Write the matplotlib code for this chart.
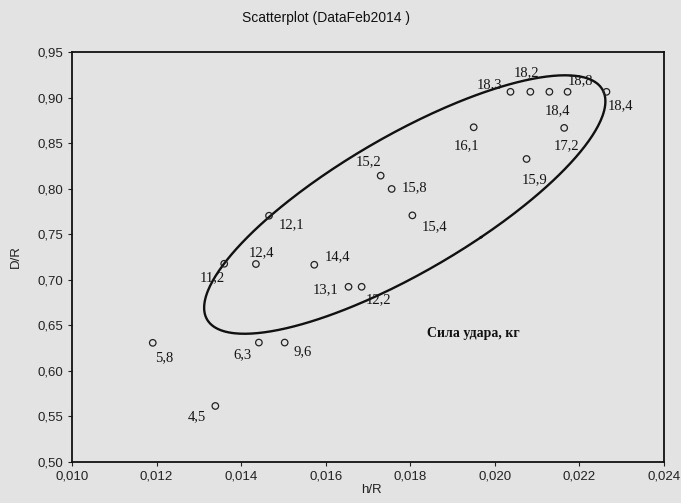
import numpy as np
import matplotlib
matplotlib.use("Agg")
import matplotlib.pyplot as plt
from matplotlib.ticker import FuncFormatter, MultipleLocator

# h/R and D/R for each test, labelled by impact force (kg)
h_r = [0.01339, 0.01191, 0.01442, 0.01503, 0.01360, 0.01435, 0.01466, 0.01573,
       0.01654, 0.01685, 0.01730, 0.01756, 0.01805, 0.01950, 0.02075, 0.02037,
       0.02084, 0.02129, 0.02172, 0.02164, 0.02264]
d_r = [0.5615, 0.6308, 0.6311, 0.6311, 0.7176, 0.7173, 0.7703, 0.7165,
       0.6923, 0.6923, 0.8143, 0.7997, 0.7707, 0.8674, 0.8326, 0.9063,
       0.9063, 0.9063, 0.9063, 0.8667, 0.9063]
force = ["4,5", "5,8", "6,3", "9,6", "11,2", "12,4", "12,1", "14,4",
         "13,1", "12,2", "15,2", "15,8", "15,4", "16,1", "15,9", "18,3",
         "18,2", "18,4", "18,8", "17,2", "18,4"]
# label offsets in pixels (right, up)
offsets = [(-18, -11), (11, -15), (-16, -12), (18, -9), (-12, -14), (6, 11), (23, -9), (23, 8),
           (-23, -3), (17, -13), (-12, 14), (23, 1), (22, -11), (-7, -18), (8, -21), (-21, 7),
           (-4, 19), (8, -19), (13, 11), (2, -18), (14, -14)]

# ellipse: centre and two conjugate semi-axes in data units
ell_center = (0.01787, 0.7826)
ell_u = (0.00180, -0.0360)
ell_w = (0.00439, 0.1372)

bg = "#e3e3e3"
fig = plt.figure(figsize=(6.81, 5.03), dpi=100, facecolor=bg)
ax = fig.add_axes([0.1057, 0.0815, 0.8693, 0.8151], facecolor=bg)

t = np.linspace(0, 2 * np.pi, 400)
ex = ell_center[0] + ell_u[0] * np.cos(t) + ell_w[0] * np.sin(t)
ey = ell_center[1] + ell_u[1] * np.cos(t) + ell_w[1] * np.sin(t)
ax.plot(ex, ey, color="#111111", lw=1.7)

ax.scatter(h_r, d_r, s=22, facecolors="none", edgecolors="#222222", linewidths=0.9, zorder=3)
for x, y, lab, (dx, dy) in zip(h_r, d_r, force, offsets):
    ax.annotate(lab, (x, y), xytext=(dx, dy), textcoords="offset pixels",
                ha="center", va="center", family="Liberation Serif", fontsize=10.5,
                color="#151515")

ax.text(0.0195, 0.641, "Сила удара, кг", family="Liberation Serif", fontweight="bold",
        fontsize=10, ha="center", va="center", color="#111111")

ax.set_xlim(0.010, 0.024)
ax.set_ylim(0.50, 0.95)
ax.xaxis.set_major_locator(MultipleLocator(0.002))
ax.yaxis.set_major_locator(MultipleLocator(0.05))
ax.xaxis.set_major_formatter(FuncFormatter(lambda v, p: f"{v:.3f}".replace(".", ",")))
ax.yaxis.set_major_formatter(FuncFormatter(lambda v, p: f"{v:.2f}".replace(".", ",")))
ax.tick_params(labelsize=9.5, length=3, width=0.8, colors="#222222", pad=3)
for lab in ax.get_xticklabels() + ax.get_yticklabels():
    lab.set_family("Liberation Sans")
for s in ax.spines.values():
    s.set_linewidth(1.3)
    s.set_color("#111111")

fig.text(0.479, 0.964, "Scatterplot (DataFeb2014 )", ha="center", va="center",
         family="Liberation Sans", fontsize=10, color="#111111")
fig.text(0.546, 0.026, "h/R", ha="center", va="center", family="Liberation Sans",
         fontsize=9.5, color="#222222")
fig.text(0.024, 0.489, "D/R", ha="center", va="center", rotation=90,
         family="Liberation Sans", fontsize=9.5, color="#222222")

fig.savefig("out.png", dpi=100, facecolor=bg)
